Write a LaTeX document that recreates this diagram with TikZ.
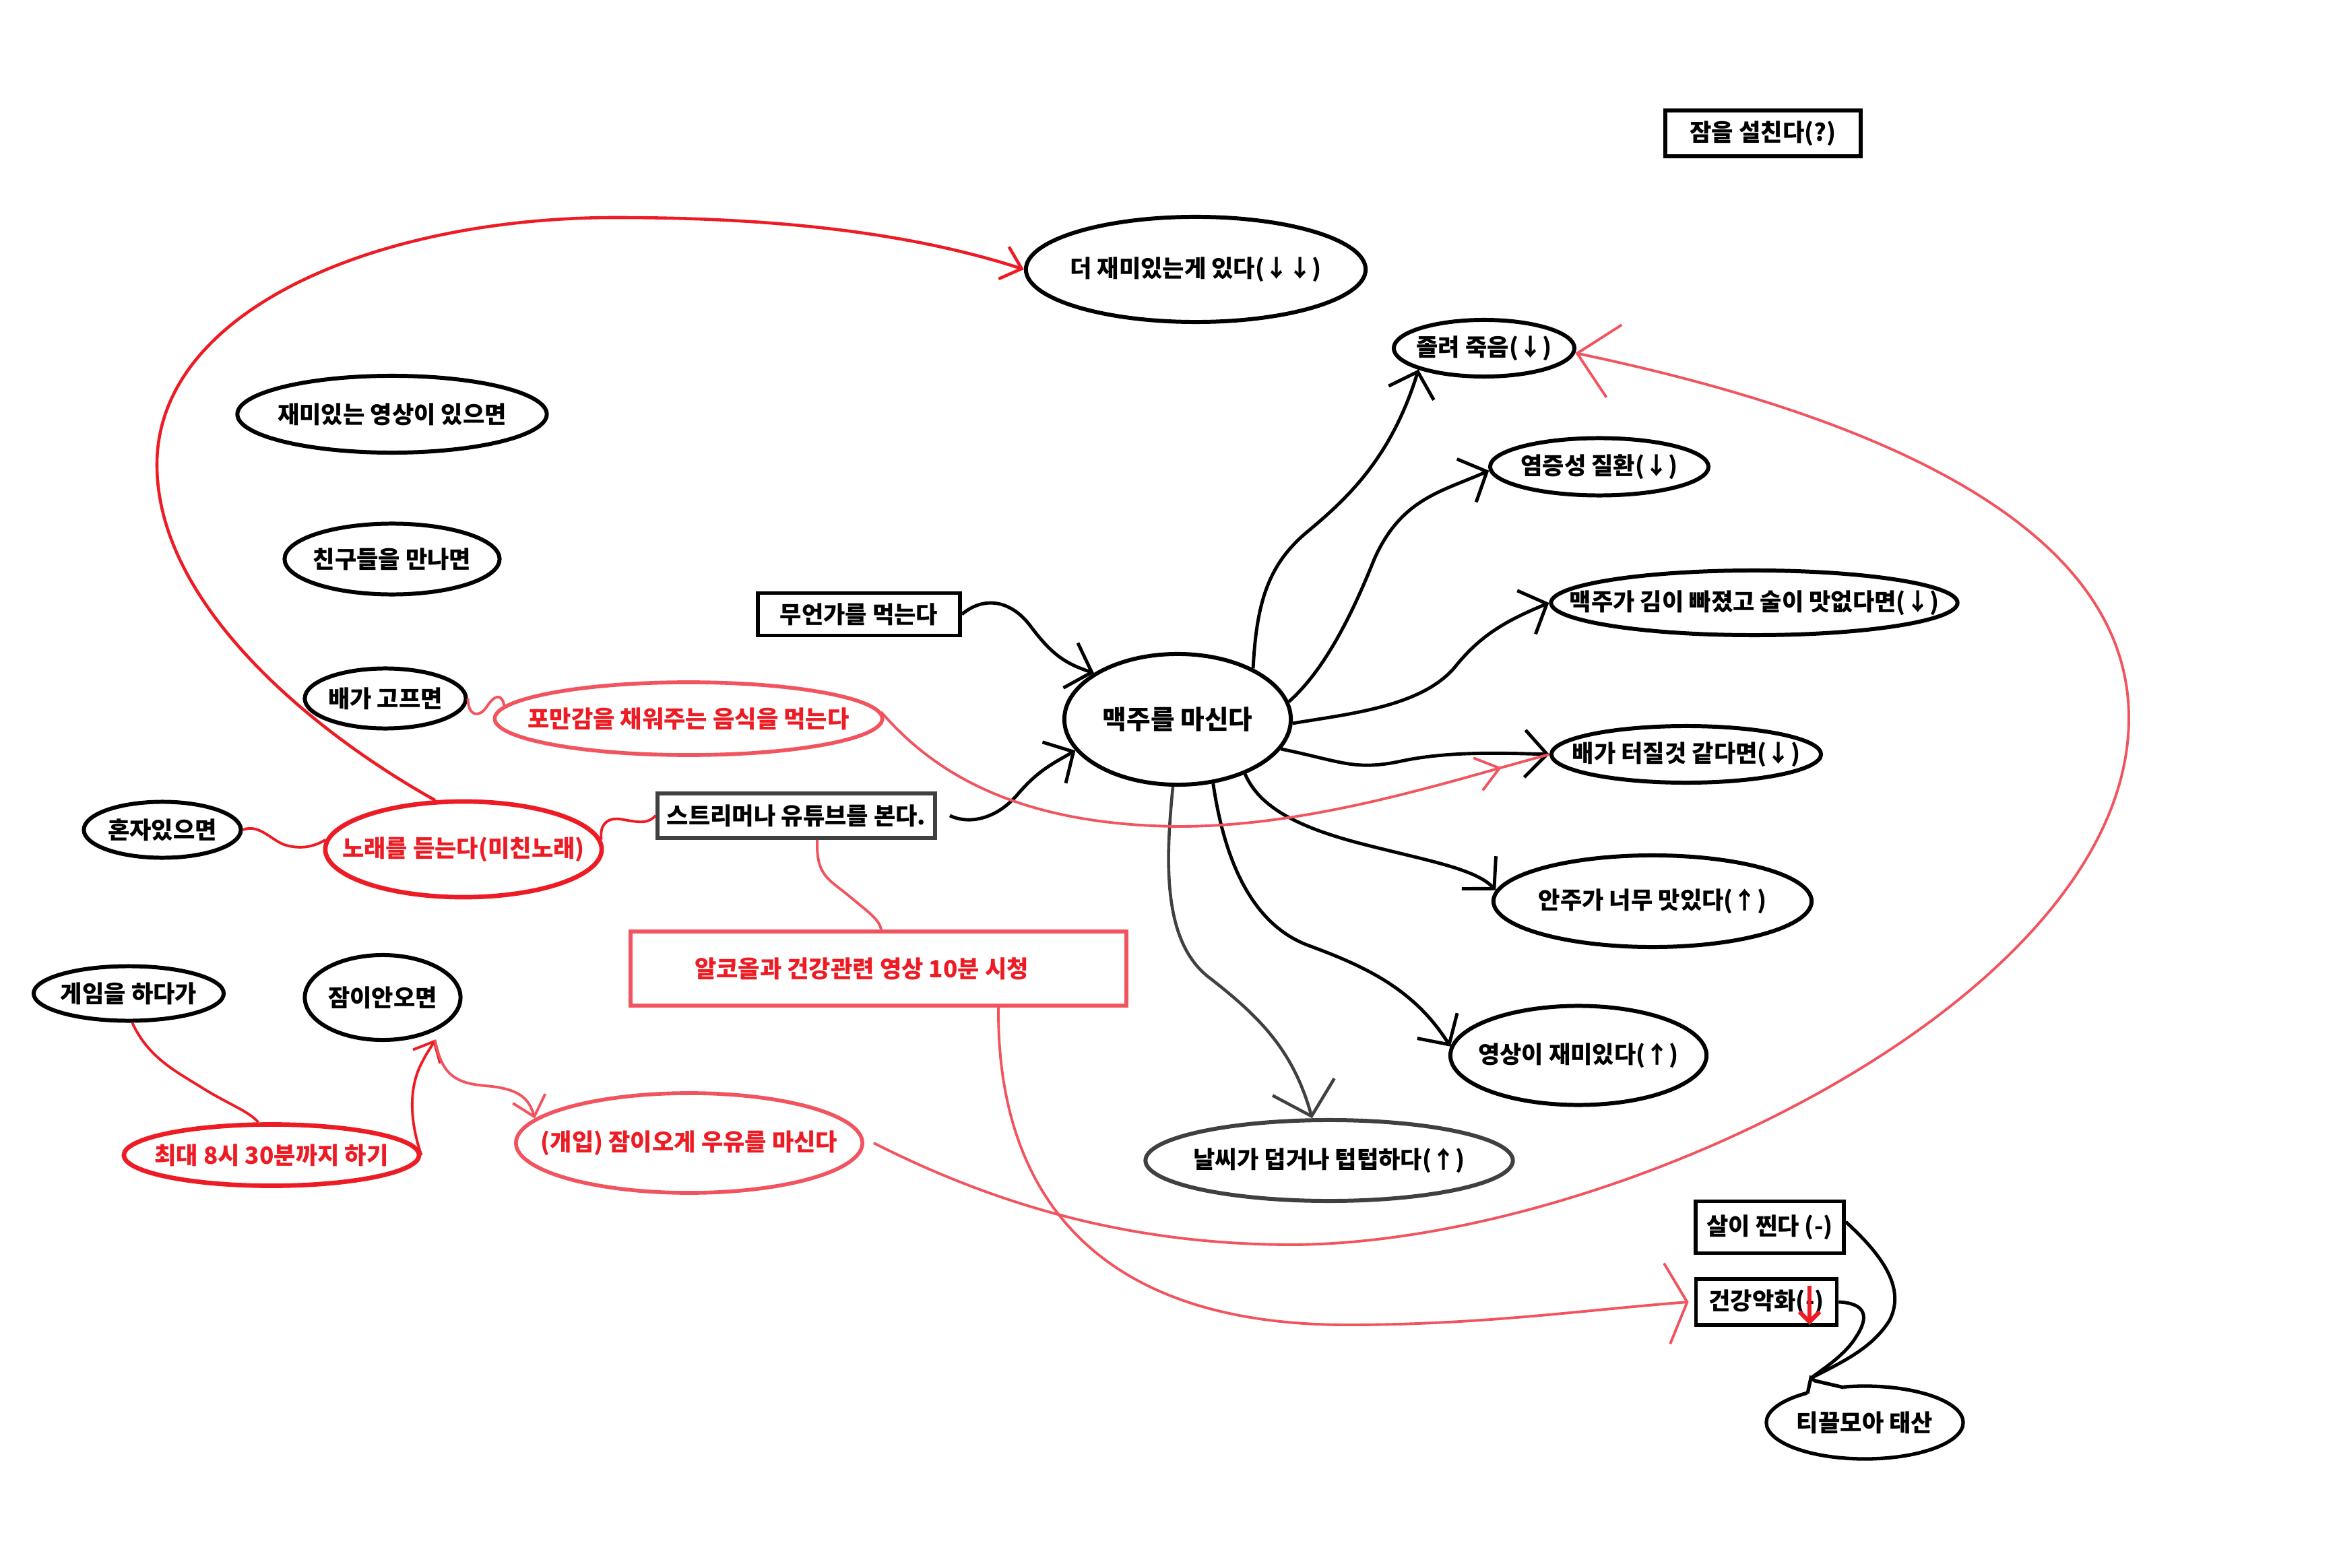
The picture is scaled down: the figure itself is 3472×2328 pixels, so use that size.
\documentclass[tikz,border=0pt]{standalone}
\usepackage{fontspec}
\setmainfont{Noto Sans CJK KR}
\usetikzlibrary{shapes.geometric,arrows.meta,decorations.markings,calc}
\definecolor{redA}{RGB}{237,28,36}
\definecolor{redB}{RGB}{241,84,94}
\definecolor{greyA}{RGB}{64,64,64}
\newcommand{\zw}[1]{\makebox[0pt][c]{#1}}
\begin{document}
\begin{tikzpicture}[x=0.01cm,y=-0.01cm,
  every node/.style={font=\fontsize{10}{12}\selectfont\bfseries},
  ell/.style={ellipse,draw=black,line width=1.7pt,inner sep=0pt},
  redellA/.style={ellipse,draw=redA,line width=1.9pt,inner sep=0pt,text=redA},
  redellB/.style={ellipse,draw=redB,line width=1.6pt,inner sep=0pt,text=redA},
  box/.style={rectangle,draw=black,line width=1.6pt,inner sep=0pt},
  bk/.style={line width=1.4pt,-{Straight Barb[length=0.33cm,width=0.7cm]}},
  gk/.style={greyA,line width=1.3pt,-{Straight Barb[length=0.45cm,width=0.95cm]}},
  rl/.style={line width=1.1pt}
]
\useasboundingbox (0,0) rectangle (3472,2328);
\fill[white] (0,0) rectangle (3472,2328);

% ---------- nodes ----------
\node[box, minimum width=2.90cm, minimum height=0.68cm] (insomnia) at (2617,198) {\zw{잠을 설친다(?)}};
\node[ell, minimum width=5.04cm, minimum height=1.56cm] (fun) at (1775,400) {\zw{더 재미있는게 있다(↓↓)}};
\node[ell, minimum width=2.68cm, minimum height=0.84cm] (sleepy) at (2203,517) {\zw{졸려 죽음(↓)}};
\node[ell, minimum width=4.59cm, minimum height=1.14cm] (video) at (582,615) {\zw{재미있는 영상이 있으면}};
\node[ell, minimum width=3.19cm, minimum height=1.05cm] (friends) at (582,830) {\zw{친구들을 만나면}};
\node[ell, minimum width=2.39cm, minimum height=0.89cm] (hungry) at (572,1037) {\zw{배가 고프면}};
\node[redellB, minimum width=5.75cm, minimum height=1.08cm] (full) at (1022,1067) {\zw{포만감을 채워주는 음식을 먹는다}};
\node[ell, minimum width=3.24cm, minimum height=0.85cm] (inflam) at (2374,693) {\zw{염증성 질환(↓)}};
\node[box, minimum width=3.00cm, minimum height=0.63cm] (eat) at (1275,912) {\zw{무언가를 먹는다}};
\node[ell, minimum width=6.03cm, minimum height=0.96cm] (flat) at (2604,895) {\zw{맥주가 김이 빠졌고 술이 맛없다면(↓)}};
\node[ell, minimum width=3.36cm, minimum height=1.94cm, font=\fontsize{11}{13}\selectfont\bfseries] (beer) at (1748,1068) {\zw{맥주를 마신다}};
\node[ell, minimum width=4.00cm, minimum height=0.84cm] (burst) at (2503,1120) {\zw{배가 터질것 같다면(↓)}};
\node[ell, minimum width=2.33cm, minimum height=0.83cm] (alone) at (241,1232) {\zw{혼자있으면}};
\node[redellA, minimum width=4.10cm, minimum height=1.42cm] (song) at (688,1261) {\zw{노래를 듣는다(미친노래)}};
\node[box, draw=greyA, minimum width=4.12cm, minimum height=0.66cm] (stream) at (1182,1211) {\zw{스트리머나 유튜브를 본다.}};
\node[ell, minimum width=4.72cm, minimum height=1.36cm] (anju) at (2453,1338) {\zw{안주가 너무 맛있다(↑)}};
\node[box, draw=redB, text=redA, minimum width=7.36cm, minimum height=1.10cm] (alcohol) at (1304,1438) {\zw{\hspace*{-0.5cm}알코올과 건강관련 영상 10분 시청}};
\node[ell, minimum width=2.82cm, minimum height=0.81cm] (game) at (191,1475) {\zw{게임을 하다가}};
\node[ell, minimum width=2.31cm, minimum height=1.26cm] (nosleep) at (568,1481) {\zw{잠이안오면}};
\node[ell, minimum width=3.80cm, minimum height=1.47cm] (vidfun) at (2343,1567) {\zw{영상이 재미있다(↑)}};
\node[redellA, minimum width=4.38cm, minimum height=0.91cm] (limit) at (403,1715) {\zw{최대 8시 30분까지 하기}};
\node[redellB, minimum width=5.14cm, minimum height=1.48cm] (milk) at (1023,1697) {\zw{(개입) 잠이오게 우유를 마신다}};
\node[ell, draw=greyA, minimum width=5.45cm, minimum height=1.20cm] (weather) at (1973,1723) {\zw{날씨가 덥거나 텁텁하다(↑)}};
\node[box, minimum width=2.20cm, minimum height=0.77cm] (gain) at (2627,1822) {\zw{살이 찐다 (-)}};
\node[box, minimum width=2.09cm, minimum height=0.68cm] (health) at (2622,1933) {\zw{건강악화(-)}};
\node[ell, line width=1.5pt, minimum width=2.92cm, minimum height=1.08cm] (tikkeul) at (2768,2112) {\zw{티끌모아 태산}};

% speech-bubble tail
\fill[white] (2683,2048) rectangle (2737,2074);
\draw[line width=1.5pt, line join=miter] (2683,2069) -- (2688,2046) -- (2694,2050) -- (2737,2060);
\coordinate (tail) at (2688,2046);
\coordinate (nsp) at ([shift={(20,5)}]nosleep.-45);

% ---------- black connectors ----------
\draw[bk] (beer.34) .. controls (1865,900) and (1880,840) .. (1940,790) .. controls (2000,740) and (2065,680) .. (sleepy.198);
\draw[bk] (beer.9) .. controls (1960,1000) and (2000,930) .. (2040,830) .. controls (2080,740) and (2140,730) .. (inflam.182);
\draw[bk] (beer.-2) .. controls (2000,1060) and (2110,1050) .. (2160,990) .. controls (2200,940) and (2240,920) .. (flat.180);
\draw[bk] (beer.-16) .. controls (1990,1130) and (2010,1145) .. (2080,1130) .. controls (2150,1115) and (2230,1118) .. (burst.180);
\draw[bk] (beer.-39) .. controls (1870,1200) and (1930,1230) .. (2030,1255) .. controls (2120,1278) and (2190,1290) .. (anju.176);
\draw[bk] (beer.-61) .. controls (1815,1260) and (1850,1370) .. (1943,1404) .. controls (2030,1436) and (2100,1470) .. (vidfun.176);
\draw[gk] (beer.-94) .. controls (1730,1280) and (1725,1400) .. (1797,1453) .. controls (1870,1510) and (1920,1560) .. (weather.112);
\draw[bk] (eat.east) .. controls (1460,885) and (1500,890) .. (1530,930) .. controls (1560,970) and (1580,985) .. (beer.151);
\draw[bk] ([xshift=0.19cm]stream.east) .. controls (1440,1225) and (1480,1215) .. (1510,1180) .. controls (1540,1145) and (1560,1135) .. (beer.197);
\draw[line width=1.4pt] (gain.4) .. controls (2790,1860) and (2830,1910) .. (2805,1960) .. controls (2780,2000) and (2740,2020) .. (tail);
\draw[line width=1.4pt] (health.east) .. controls (2770,1935) and (2775,1955) .. (2755,1985) .. controls (2740,2010) and (2710,2030) .. (tail);

% ---------- red connectors ----------
\draw[redA, line width=1.3pt, -{Straight Barb[length=0.28cm,width=0.5cm]}] (song.120) .. controls (470,1090) and (233,900) .. (233,690) .. controls (233,460) and (560,323) .. (914,323) .. controls (1150,323) and (1350,345) .. (fun.west);
\draw[redB, rl, postaction={decorate}, decoration={markings, mark=at position 0.93 with {\arrow{Straight Barb[length=0.33cm,width=0.5cm]}}}] (full.2) .. controls (1380,1140) and (1500,1225) .. (1750,1227) .. controls (1950,1227) and (2150,1160) .. (burst.west);
\draw[redB, rl] (hungry.east) .. controls (695,1065) and (712,1065) .. (722,1050) .. controls (735,1030) and (745,1030) .. (full.176);
\draw[redA, rl] (alone.east) .. controls (385,1222) and (405,1250) .. (425,1255) .. controls (450,1262) and (470,1255) .. (song.176);
\draw[redA, rl] (song.4) .. controls (890,1225) and (900,1214) .. (920,1216) .. controls (945,1220) and (960,1225) .. (stream.west);
\draw[redB, rl] (stream.-49) .. controls (1211,1300) and (1230,1305) .. (1260,1330) .. controls (1290,1355) and (1305,1365) .. (alcohol.86);
\draw[redB, rl, -{Straight Barb[length=0.3cm,width=1.2cm]}] (alcohol.-18) .. controls (1480,1700) and (1560,1967) .. (2000,1967) .. controls (2200,1967) and (2350,1945) .. ([xshift=-0.08cm]health.west);
\draw[redB, rl, -{Straight Barb[length=0.56cm,width=1.1cm]}] ([xshift=0.14cm]milk.east) .. controls (1500,1800) and (1700,1848) .. (1920,1848) .. controls (2400,1845) and (3160,1480) .. (3160,1066) .. controls (3160,750) and (2700,600) .. (sleepy.-3);
\draw[redA, rl] (game.-83) .. controls (220,1570) and (260,1590) .. (300,1615) .. controls (340,1640) and (370,1650) .. (limit.112);
\draw[redA, rl, -{Straight Barb[length=0.25cm,width=0.45cm]}] (limit.east) .. controls (610,1670) and (605,1620) .. (625,1580) .. controls (635,1560) and (640,1555) .. (nsp);
\draw[redB, rl, -{Straight Barb[length=0.28cm,width=0.5cm]}] (nsp) .. controls (655,1590) and (670,1608) .. (720,1612) .. controls (770,1616) and (785,1630) .. (milk.171);

% red mark inside 건강악화
\draw[redA, line width=1.8pt, -{Straight Barb[length=0.15cm,width=0.3cm]}] ($(health.center)+(64,-24)$) -- ($(health.center)+(64,34)$);
\end{tikzpicture}
\end{document}
